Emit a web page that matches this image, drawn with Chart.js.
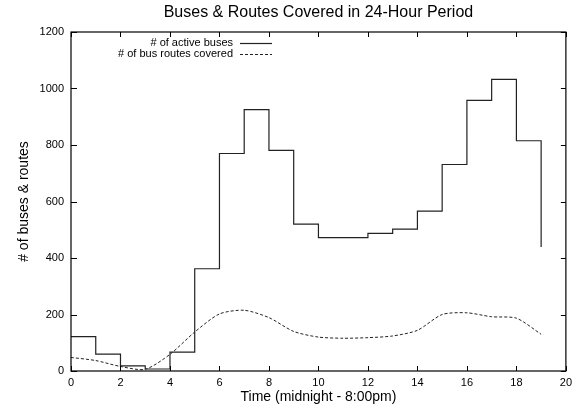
<!DOCTYPE html>
<html>
<head>
<meta charset="utf-8">
<script src="https://cdn.jsdelivr.net/npm/chart.js@4"></script>
<style>
body { margin: 0; background: #fff; }
#wrap { width: 577px; height: 408px; }
</style>
</head>
<body>
<div id="wrap"><canvas id="canvas" width="577" height="408"></canvas></div>
<script>
// hours of the day (step starts)
var hours = [0, 1, 2, 3, 4, 5, 6, 7, 8, 9, 10, 11, 12, 13, 14, 15, 16, 17, 18, 19];
// # of active buses
var buses = [122, 60, 18, 7, 67, 362, 770, 925, 781, 520, 472, 472, 487, 502, 566, 731, 958, 1032, 815, 439];
// # of bus routes covered
var routes = [48, 37, 16, 6, 59, 138, 202, 215, 189, 140, 120, 116, 118, 124, 144, 200, 206, 192, 187, 130];
var labels = ['# of active buses', '# of bus routes covered'];
var chartTitle = 'Buses & Routes Covered in 24-Hour Period';

function pts(ys){
	var r = [];
	for(var i = 0; i < hours.length; i++){
		r.push({x: hours[i], y: ys[i]});
	}
	return r;
}

var FONT = "'Liberation Sans', Arial, Helvetica, sans-serif";
Chart.defaults.font.family = FONT;
Chart.defaults.color = '#000';

// gnuplot style frame with inward ticks, title over the plot, legend inside
var framePlugin = {
	id: 'frame',
	afterDatasetsDraw: function(chart){
		var ctx = chart.ctx;
		var a = chart.chartArea;
		var xs = chart.scales.x, ys = chart.scales.y;
		ctx.save();
		ctx.strokeStyle = '#000';
		ctx.lineWidth = 1.2;
		ctx.strokeRect(a.left, a.top, a.right - a.left, a.bottom - a.top);
		ctx.beginPath();
		xs.ticks.forEach(function(t){
			var px = Math.round(xs.getPixelForValue(t.value)) + 0.5;
			ctx.moveTo(px, a.bottom); ctx.lineTo(px, a.bottom - 5);
			ctx.moveTo(px, a.top); ctx.lineTo(px, a.top + 5);
		});
		ys.ticks.forEach(function(t){
			var py = Math.round(ys.getPixelForValue(t.value)) + 0.5;
			ctx.moveTo(a.left, py); ctx.lineTo(a.left + 6, py);
			ctx.moveTo(a.right, py); ctx.lineTo(a.right - 5, py);
		});
		ctx.lineWidth = 1;
		ctx.stroke();

		// title centred on the plot area
		ctx.font = '16px ' + FONT;
		ctx.textAlign = 'center';
		ctx.textBaseline = 'middle';
		ctx.fillStyle = '#000';
		ctx.fillText(chartTitle, (a.left + a.right) / 2, 13);

		// legend, text to the left of the line sample
		ctx.font = '11px ' + FONT;
		ctx.textAlign = 'right';
		chart.data.datasets.forEach(function(ds, i){
			var y = 43 + i * 10.6;
			ctx.fillText(ds.label, 233, y);
			ctx.beginPath();
			ctx.setLineDash(ds.borderDash || []);
			ctx.strokeStyle = ds.borderColor;
			ctx.lineWidth = ds.borderWidth;
			ctx.moveTo(240, Math.round(y) + 0.5);
			ctx.lineTo(272, Math.round(y) + 0.5);
			ctx.stroke();
		});
		ctx.restore();
	}
};

var ctx = document.getElementById('canvas').getContext('2d');
var chart = new Chart(ctx, {
	type: 'line',
	data: {
		datasets: [{
			label: labels[0],
			data: pts(buses),
			stepped: 'before',
			borderColor: '#222',
			borderWidth: 1.2,
			pointRadius: 0,
			fill: false
		}, {
			label: labels[1],
			data: pts(routes),
			borderColor: '#222',
			borderWidth: 1,
			borderDash: [3, 2],
			tension: 0.25,
			pointRadius: 0,
			fill: false
		}]
	},
	options: {
		responsive: false,
		animation: false,
		layout: { padding: { left: 0, right: 7, top: 32, bottom: 0 } },
		plugins: {
			legend: { display: false },
			tooltip: { enabled: false },
			title: { display: false }
		},
		scales: {
			x: {
				type: 'linear',
				min: 0,
				max: 20,
				ticks: { stepSize: 2, font: { size: 11 }, padding: 5, color: '#000' },
				grid: { display: false, drawTicks: false },
				border: { display: false },
				title: {
					display: true,
					text: 'Time (midnight - 8:00pm)',
					font: { size: 14 },
					color: '#000',
					padding: { top: 0, bottom: 2 }
				},
				afterFit: function(s){ s.height = 37; }
			},
			y: {
				min: 0,
				max: 1200,
				ticks: {
					stepSize: 200, font: { size: 11 }, padding: 7, color: '#000',
					callback: function(v){ return String(v); }
				},
				grid: { display: false, drawTicks: false },
				border: { display: false },
				title: {
					display: true,
					text: '# of buses & routes',
					font: { size: 14 },
					color: '#000',
					padding: { top: 16, bottom: 0 }
				},
				afterFit: function(s){ s.width = 71; }
			}
		}
	},
	plugins: [framePlugin]
});
</script>
</body>
</html>
